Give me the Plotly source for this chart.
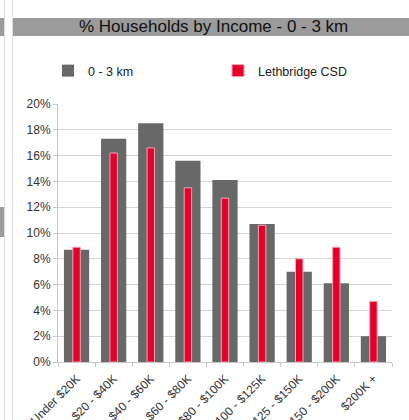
import plotly.graph_objects as go

categories = ["Under $20K", "$20 - $40K", "$40 - $60K", "$60 - $80K", "$80 - $100K",
              "$100 - $125K", "$125 - $150K", "$150 - $200K", "$200K +"]
area_0_3km = [8.7, 17.3, 18.5, 15.6, 14.1, 10.7, 7.0, 6.1, 2.0]
lethbridge_csd = [8.9, 16.2, 16.6, 13.5, 12.7, 10.6, 8.0, 8.9, 4.7]
y_ticks = [0, 2, 4, 6, 8, 10, 12, 14, 16, 18, 20]
y_tick_labels = [f"{v}%" for v in y_ticks]

W, H = 409, 420
L, R, T, B = 58, 17, 104, 58
pw, ph = W - L - R, H - T - B

def px_x(px):
    return (px - L) / pw

def px_y(py):
    return (H - B - py) / ph

FONT = "Liberation Sans, Arial, sans-serif"

fig = go.Figure()
fig.add_trace(go.Bar(
    x=categories, y=area_0_3km, name="0 - 3 km", width=0.68,
    marker=dict(color="#686868", line=dict(width=0)), legend="legend",
))
fig.add_trace(go.Bar(
    x=categories, y=lethbridge_csd, name="Lethbridge CSD", width=0.2,
    marker=dict(color="#e4002b", line=dict(color="#f4a6b6", width=1)), legend="legend2",
))

shapes = [
    dict(type="rect", xref="paper", yref="paper", x0=px_x(12), x1=px_x(409),
         y0=px_y(36), y1=px_y(18), fillcolor="#9b9b9b", line=dict(width=0), layer="below"),
    dict(type="rect", xref="paper", yref="paper", x0=px_x(0), x1=px_x(4),
         y0=px_y(36), y1=px_y(18), fillcolor="#9b9b9b", line=dict(width=0)),
    dict(type="rect", xref="paper", yref="paper", x0=px_x(0), x1=px_x(4),
         y0=px_y(237), y1=px_y(207), fillcolor="#9b9b9b", line=dict(width=0)),
    dict(type="line", xref="paper", yref="paper", x0=px_x(4.5), x1=px_x(4.5),
         y0=px_y(420), y1=px_y(0), line=dict(color="#dddddd", width=1)),
    dict(type="line", xref="paper", yref="paper", x0=px_x(12.5), x1=px_x(12.5),
         y0=px_y(420), y1=px_y(0), line=dict(color="#dddddd", width=1)),
]

legend_common = dict(orientation="h", xanchor="left", yanchor="middle",
                     font=dict(family=FONT, size=12.5, color="#222222"),
                     bgcolor="rgba(0,0,0,0)", itemwidth=30)

fig.update_layout(
    template="none",
    width=W, height=H,
    margin=dict(l=L, r=R, t=T, b=B, autoexpand=False),
    paper_bgcolor="white", plot_bgcolor="white",
    barmode="overlay",
    font=dict(family=FONT, size=12, color="#333333"),
    showlegend=True,
    legend=dict(x=px_x(48), y=px_y(71), **legend_common),
    legend2=dict(x=px_x(218), y=px_y(71), **legend_common),
    shapes=shapes,
    annotations=[dict(text="% Households by Income - 0 - 3 km", xref="paper", yref="paper",
                      x=px_x(213), y=px_y(27), xanchor="center", yanchor="middle",
                      showarrow=False, font=dict(family=FONT, size=17, color="#111111"))],
    xaxis=dict(
        type="category", automargin=False, tickangle=-45,
        tickfont=dict(family=FONT, size=12, color="#333333"),
        ticklabelstandoff=4,
        showline=True, linecolor="#c8c8c8", linewidth=1,
        ticks="outside", ticklen=4, tickcolor="#c8c8c8", tickson="boundaries",
        showgrid=False, zeroline=False,
    ),
    yaxis=dict(
        range=[0, 20], tickmode="array", tickvals=y_ticks, ticktext=y_tick_labels,
        automargin=False,
        tickfont=dict(family=FONT, size=12, color="#333333"),
        showline=True, linecolor="#c8c8c8", linewidth=1,
        ticks="outside", ticklen=4, tickcolor="#c8c8c8",
        showgrid=True, gridcolor="#d4d4d4", gridwidth=1, zeroline=False,
    ),
)

fig.write_html("out.html", config={"displayModeBar": False},
               post_script="document.body.style.margin='0';")
